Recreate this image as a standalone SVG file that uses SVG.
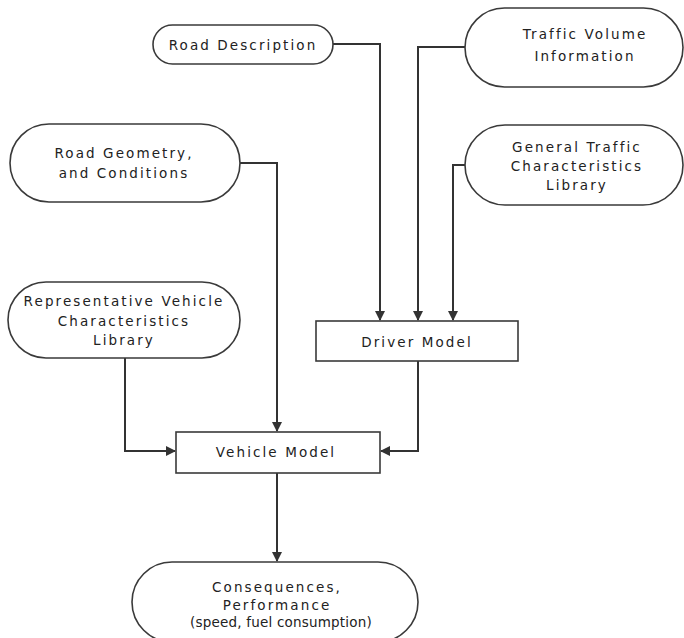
<svg xmlns="http://www.w3.org/2000/svg" width="684" height="638" viewBox="0 0 684 638">
  <style>
    .term { fill: #fff; stroke: #3a3a3a; stroke-width: 1.6; }
    .proc { fill: #fff; stroke: #3a3a3a; stroke-width: 1.6; }
    .lbl { font-family: "DejaVu Sans", "Liberation Sans", sans-serif; font-size: 13.5px; letter-spacing: 2.1px; fill: #222; text-anchor: middle; dominant-baseline: central; }
    .tight { letter-spacing: 0.2px; }
    .wire { fill: none; stroke: #333; stroke-width: 2; marker-end: url(#arrow); }
  </style>
  <defs>
    <marker id="arrow" viewBox="0 0 10 10" refX="9" refY="5" markerWidth="5" markerHeight="5" markerUnits="strokeWidth" orient="auto">
      <path d="M0,0 L10,5 L0,10 z" fill="#333"/>
    </marker>
  </defs>
  <rect width="684" height="638" fill="#fff"/>

  <g id="connectors">
    <path class="wire" d="M333,44 H380 V320"/>
    <path class="wire" d="M465,47 H418 V320"/>
    <path class="wire" d="M465,165 H453 V320"/>
    <path class="wire" d="M240,163 H277 V431"/>
    <path class="wire" d="M125,358 V451 H175"/>
    <path class="wire" d="M418,361 V451 H381"/>
    <path class="wire" d="M277,473 V561"/>
  </g>

  <g id="road-description">
    <rect class="term" x="153" y="25" width="180" height="39" rx="19.5"/>
    <text class="lbl" x="243" y="45">Road Description</text>
  </g>

  <g id="traffic-volume">
    <rect class="term" x="465" y="8" width="218" height="79" rx="39.5"/>
    <text class="lbl" x="585" y="34">Traffic Volume</text>
    <text class="lbl" x="585" y="56">Information</text>
  </g>

  <g id="road-geometry">
    <rect class="term" x="10" y="124" width="230" height="78" rx="39"/>
    <text class="lbl" x="124" y="153">Road Geometry,</text>
    <text class="lbl" x="124" y="173">and Conditions</text>
  </g>

  <g id="general-traffic">
    <rect class="term" x="465" y="125" width="218" height="80" rx="40"/>
    <text class="lbl" x="577" y="147">General Traffic</text>
    <text class="lbl" x="577" y="166">Characteristics</text>
    <text class="lbl" x="577" y="185">Library</text>
  </g>

  <g id="vehicle-library">
    <rect class="term" x="8" y="282" width="232" height="76" rx="38"/>
    <text class="lbl" x="124" y="301">Representative Vehicle</text>
    <text class="lbl" x="124" y="321">Characteristics</text>
    <text class="lbl" x="124" y="340">Library</text>
  </g>

  <g id="driver-model">
    <rect class="proc" x="316" y="321" width="202" height="40"/>
    <text class="lbl" x="417" y="342">Driver Model</text>
  </g>

  <g id="vehicle-model">
    <rect class="proc" x="176" y="432" width="204" height="41"/>
    <text class="lbl" x="276" y="452">Vehicle Model</text>
  </g>

  <g id="consequences">
    <rect class="term" x="132" y="562" width="286" height="80" rx="40"/>
    <text class="lbl" x="277" y="587">Consequences,</text>
    <text class="lbl" x="277" y="605">Performance</text>
    <text class="lbl tight" x="281" y="622">(speed, fuel consumption)</text>
  </g>
</svg>
